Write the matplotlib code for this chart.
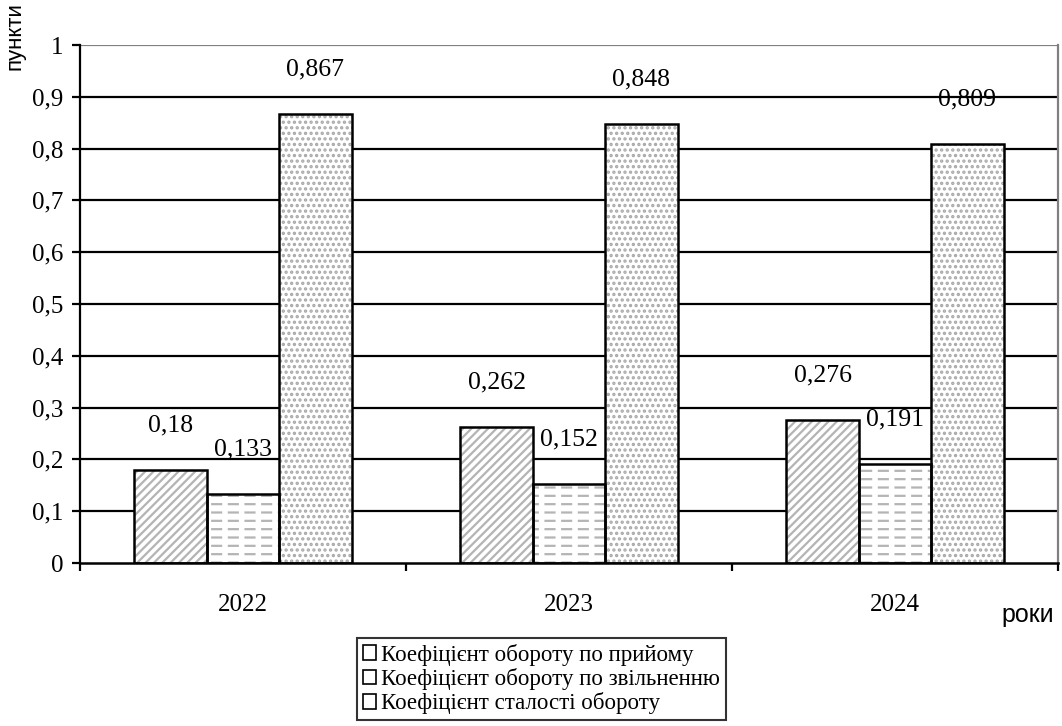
import numpy as np
import matplotlib.pyplot as plt
from matplotlib.patches import Patch
from matplotlib.font_manager import FontProperties

# data
years = ["2022", "2023", "2024"]
series_names = [
    "Коефіцієнт обороту по прийому",
    "Коефіцієнт обороту по звільненню",
    "Коефіцієнт сталості обороту",
]
hire_rate = [0.18, 0.262, 0.276]
leave_rate = [0.133, 0.152, 0.191]
stability_rate = [0.867, 0.848, 0.809]
y_ticks = [0, 0.1, 0.2, 0.3, 0.4, 0.5, 0.6, 0.7, 0.8, 0.9, 1]

hatches = ["////", "--", "..."]
hatch_colors = ["#b4b4b4", "#b4b4b4", "#a8a8a8"]

plt.rcParams["hatch.linewidth"] = 1.6
serif = ["Liberation Serif", "DejaVu Serif"]
sans = ["Liberation Sans", "DejaVu Sans"]


def fmt(v):
    return f"{v:g}".replace(".", ",")


fig = plt.figure(figsize=(10.62, 7.26), dpi=100)
ax = fig.add_axes([80 / 1062, 1 - 563 / 726, (1058 - 80) / 1062, (563 - 45) / 726])

x = np.arange(len(years))
width = 0.222
series = [hire_rate, leave_rate, stability_rate]

# grid lines behind the bars
for t in y_ticks[1:-1]:
    ax.axhline(t, color="black", lw=1.6, zorder=0)
ax.axhline(1, color="#808080", lw=1.6, zorder=0)

for i, vals in enumerate(series):
    pos = x + (i - 1) * width
    # hatch layer, then black outline on top
    ax.bar(pos, vals, width, facecolor="white", edgecolor=hatch_colors[i],
           hatch=hatches[i], lw=0, zorder=2)
    if i == 1:
        # white vertical hatch cuts the horizontal lines into dashes
        cut = ax.bar(pos, vals, width, facecolor="none", edgecolor="white",
                     hatch="|", lw=0, zorder=2.5)
        for p in cut:
            if hasattr(p, "set_hatch_linewidth"):
                p.set_hatch_linewidth(4)
    ax.bar(pos, vals, width, facecolor="none", edgecolor="black", lw=1.8, zorder=3)
    for xp, v in zip(pos, vals):
        ax.annotate(fmt(v), (xp, v), xytext=(0, 32), textcoords="offset points",
                    ha="center", va="center", fontsize=18.5, family=serif, zorder=4)

ax.set_xlim(-0.5, len(years) - 0.5)
ax.set_ylim(0, 1)
ax.set_yticks(y_ticks)
ax.set_yticklabels([fmt(t) for t in y_ticks], fontsize=18, family=serif)
ax.set_xticks(x)
ax.set_xticklabels(years, fontsize=18, family=serif)
ax.set_xticks(np.arange(len(years) + 1) - 0.5, minor=True)
ax.tick_params(axis="x", which="major", length=0, pad=22)
ax.tick_params(axis="x", which="minor", length=6, width=1.6, direction="out")
ax.tick_params(axis="y", length=6, width=1.6, direction="out", pad=6)

ax.spines["left"].set_linewidth(1.6)
ax.spines["bottom"].set_linewidth(1.8)
ax.spines["bottom"].set_zorder(5)
ax.spines["top"].set_visible(False)
ax.spines["right"].set_color("#808080")
ax.spines["right"].set_linewidth(1.6)

fig.text(15 / 1062, 1 - 2 / 726, "пункти", rotation=90, ha="center", va="top",
         fontsize=16, family=sans)
fig.text(1028 / 1062, 1 - 615 / 726, "роки", ha="center", va="center",
         fontsize=18, family=sans)

handles = [Patch(facecolor="white", edgecolor="black", lw=1.2) for _ in series_names]
leg = fig.legend(handles, series_names, loc="upper left",
                 bbox_to_anchor=(357 / 1062, 1 - 638 / 726),
                 frameon=True, fancybox=False, edgecolor="black",
                 prop=FontProperties(family="Liberation Serif", size=16.5),
                 handlelength=0.6, handleheight=0.6, handletextpad=0.2,
                 labelspacing=0.1, borderpad=0.25, borderaxespad=0)
leg.get_frame().set_linewidth(1.5)

fig.savefig("out.png", dpi=100)
